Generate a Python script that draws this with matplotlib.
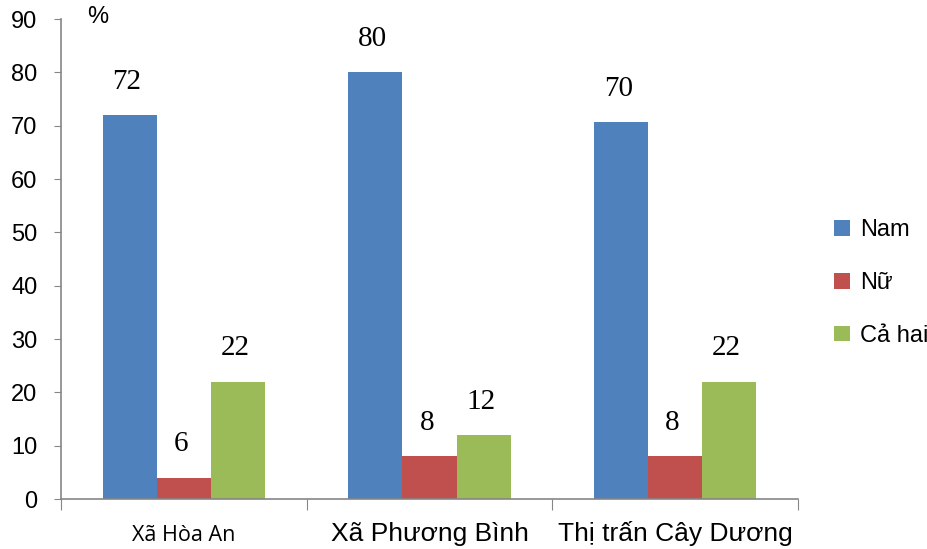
import matplotlib
matplotlib.use("Agg")
import matplotlib.pyplot as plt
import numpy as np
from matplotlib.patches import Patch

# dữ liệu
categories = ["Xã Hòa An", "Xã Phương Bình", "Thị trấn Cây Dương"]
series = ["Nam", "Nữ", "Cả hai"]
nam = [72, 80, 70.7]
nu = [4, 8, 8]
ca_hai = [22, 12, 22]
nam_labels = ["72", "80", "70"]
nu_labels = ["6", "8", "8"]
ca_hai_labels = ["22", "12", "22"]

colors = ["#4F81BD", "#C0504D", "#9BBB59"]
axis_grey = "#868686"

plt.rcParams["font.family"] = ["Liberation Sans", "DejaVu Sans"]

fig = plt.figure(figsize=(9.28, 5.49), dpi=100)
ax = fig.add_axes([61 / 928, 1 - 499 / 549, (798 - 61) / 928, (499 - 19) / 549])

x = np.arange(len(categories))
w = 0.22
values = [nam, nu, ca_hai]
labels = [nam_labels, nu_labels, ca_hai_labels]
for i, (vals, labs) in enumerate(zip(values, labels)):
    pos = x + (i - 1) * w
    ax.bar(pos, vals, width=w, color=colors[i], linewidth=0)
    for xp, v, t in zip(pos, vals, labs):
        ax.annotate(t, (xp, v), xytext=(-2, 24), textcoords="offset points",
                    ha="center", va="center", fontsize=21,
                    family=["Liberation Serif", "DejaVu Serif"])

ax.set_xlim(-0.5, 2.5)
ax.set_ylim(0, 90)
ax.set_yticks(np.arange(0, 91, 10))
ax.tick_params(axis="y", labelsize=17, length=5, color=axis_grey, pad=12)

# vạch chia ở ranh giới các nhóm
ax.set_xticks([-0.5, 0.5, 1.5, 2.5])
ax.set_xticklabels([])
ax.tick_params(axis="x", length=8, color=axis_grey)
cat_fonts = [("Open Sans", 15.5), ("Liberation Sans", 19), ("Liberation Sans", 19)]
for xi, name, (fam, fs) in zip(x, categories, cat_fonts):
    ax.text(xi, -7.9, name, ha="center", va="baseline", fontsize=fs,
            family=[fam, "DejaVu Sans"])

for s in ["top", "right"]:
    ax.spines[s].set_visible(False)
for s in ["left", "bottom"]:
    ax.spines[s].set_color(axis_grey)
    ax.spines[s].set_linewidth(1.2)

fig.text(98 / 928, 1 - 17 / 549, "%", ha="center", va="center", fontsize=17)

handles = [Patch(facecolor=c, edgecolor="none") for c in colors]
fig.legend(handles, series, loc="center left", bbox_to_anchor=(0.899, 0.4845),
           frameon=False, fontsize=17, handlelength=0.65, handleheight=0.65,
           handletextpad=0.45, labelspacing=1.3, borderaxespad=0, borderpad=0)

fig.savefig("out.png", dpi=100)
plt.close(fig)
